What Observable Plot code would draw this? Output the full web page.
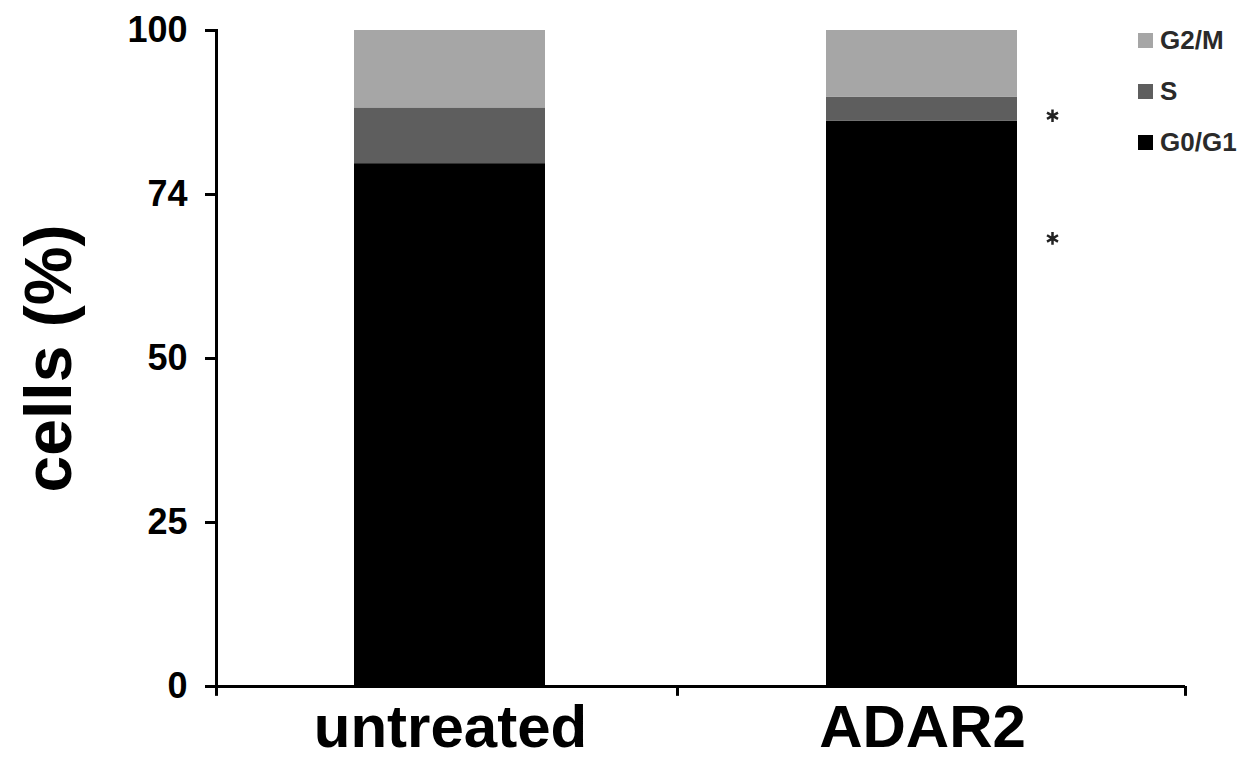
<!DOCTYPE html>
<html>
<head>
<meta charset="utf-8">
<script src="https://cdn.jsdelivr.net/npm/d3@7"></script>
<script src="https://cdn.jsdelivr.net/npm/@observablehq/plot@0.6"></script>
<style>
  html, body { margin: 0; padding: 0; background: #fff; }
  #wrap { position: relative; width: 1244px; height: 760px; font-family: "Liberation Sans", Arial, Helvetica, sans-serif; }
  #legend { position: absolute; left: 1138px; top: 27px; display: flex; flex-direction: column; gap: 24px; }
  .item { display: flex; align-items: center; height: 27px; font-size: 26px; font-weight: bold; color: #2a2a2a; }
  .sw { width: 15px; height: 15px; margin-right: 7px; }
</style>
</head>
<body>
<div id="wrap"><div id="legend"></div></div>
<script>
const categories = ["untreated", "ADAR2"];
const phases = ["G0/G1", "S", "G2/M"];
const g0g1 = [79.7, 86.2];
const sPhase = [8.5, 3.6];
const g2m = [11.8, 10.2];
const phaseColors = ["#000000", "#5e5e5e", "#a6a6a6"];
const yTicks = [0, 25, 50, 75, 100];
const yTickLabels = ["0", "25", "50", "74", "100"];
const sigMarks = [87.0, 68.3]; // asterisks beside ADAR2 (S and G0/G1)

const series = [g0g1, sPhase, g2m];
const rows = [];
categories.forEach((c, i) => {
  phases.forEach((p, j) => rows.push({category: c, phase: p, value: series[j][i]}));
});

const font = '"Liberation Sans", Arial, Helvetica, sans-serif';

const chart = Plot.plot({
  width: 1244,
  height: 760,
  marginLeft: 216,
  marginRight: 59,
  marginTop: 30,
  marginBottom: 74,
  style: {fontFamily: font, background: "#fff", color: "#000"},
  x: {domain: categories, range: [214, 1158], padding: 0},
  y: {domain: [0, 100]},
  color: {domain: phases, range: phaseColors},
  marks: [
    Plot.barY(rows, {x: "category", y: "value", fill: "phase", insetLeft: 140, insetRight: 141}),
    Plot.axisY({ticks: yTicks, tickFormat: d => yTickLabels[yTicks.indexOf(d)], tickSize: 11, tickPadding: 18,
      fontSize: 36, fontWeight: "bold", strokeWidth: 3, label: null}),
    Plot.axisX({tickSize: 0, tickPadding: 18, fontSize: 60, fontWeight: "bold", label: null}),
    Plot.frame({anchor: "left", strokeWidth: 3}),
    Plot.ruleY([0], {strokeWidth: 3}),
    Plot.ruleX(["untreated"], {x: d => d, dx: -234, y1: 0, y2: -1.5, strokeWidth: 3}),
    Plot.ruleX(["ADAR2"], {x: d => d, dx: -245, y1: 0, y2: -1.5, strokeWidth: 3}),
    Plot.ruleX(["ADAR2"], {x: d => d, dx: 263, y1: 0, y2: -1.5, strokeWidth: 3}),
    Plot.dot(sigMarks, {x: () => "ADAR2", y: d => d, dx: 130, symbol: "asterisk", r: 6, stroke: "#222", strokeWidth: 2.5}),
    Plot.text(["cells (%)"], {frameAnchor: "left", dx: -167, rotate: -90, textAnchor: "middle", lineAnchor: "middle",
      fontSize: 66, fontWeight: "bold", fill: "#000"})
  ]
});
document.getElementById("wrap").prepend(chart);

const legend = document.getElementById("legend");
[...phases].reverse().forEach(p => {
  const item = document.createElement("div");
  item.className = "item";
  const sw = document.createElement("span");
  sw.className = "sw";
  sw.style.background = phaseColors[phases.indexOf(p)];
  const t = document.createElement("span");
  t.textContent = p;
  item.append(sw, t);
  legend.append(item);
});
</script>
</body>
</html>
